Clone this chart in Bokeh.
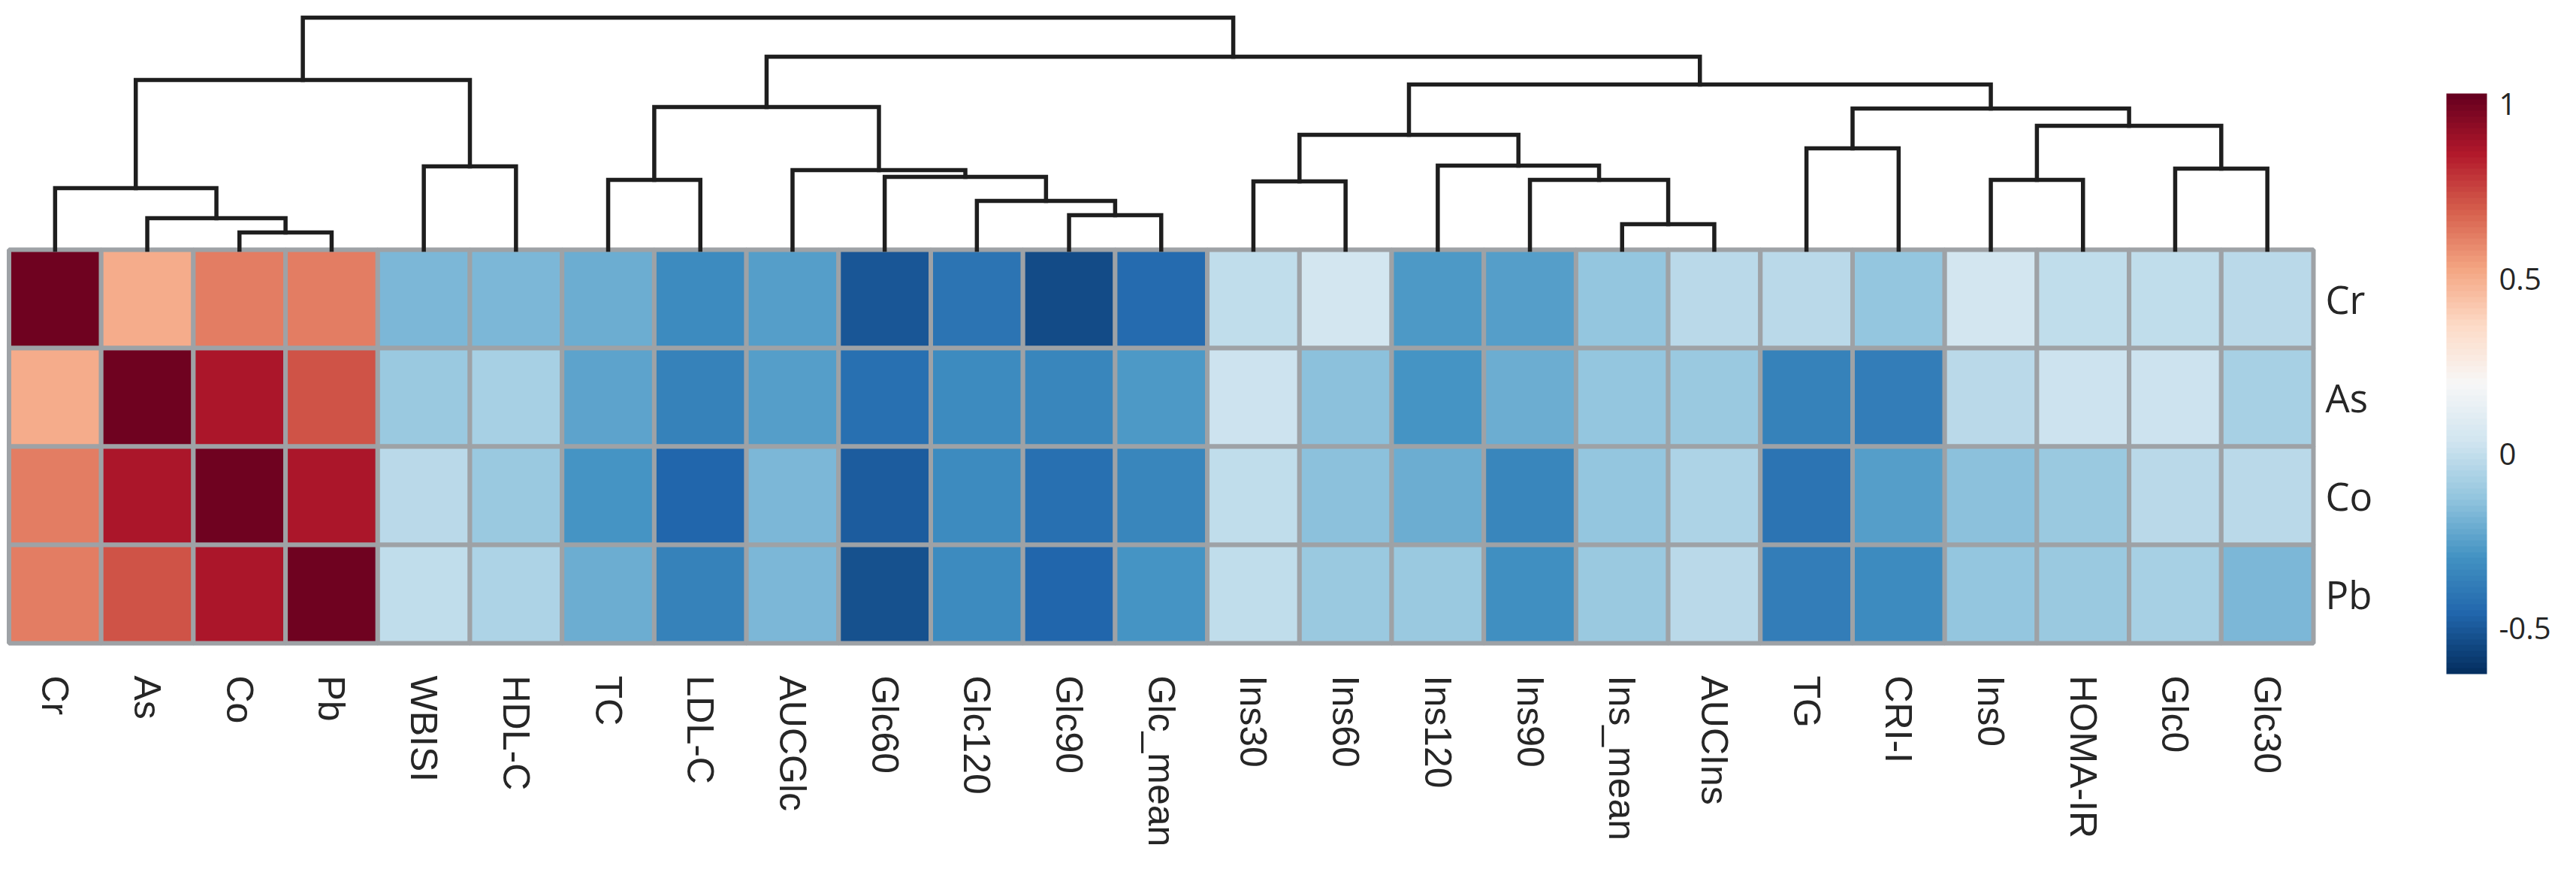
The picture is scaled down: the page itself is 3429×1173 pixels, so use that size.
import numpy as np
from bokeh.plotting import figure
from bokeh.models import (ColumnDataSource, LinearColorMapper, ColorBar,
                          FixedTicker, Range1d)
from bokeh.embed import file_html
from bokeh.resources import INLINE
from bokeh.core.properties import value

# ---------------- data ----------------
columns = ["Cr", "As", "Co", "Pb", "WBISI", "HDL-C", "TC", "LDL-C", "AUCGlc",
           "Glc60", "Glc120", "Glc90", "Glc_mean", "Ins30", "Ins60", "Ins120",
           "Ins90", "Ins_mean", "AUCIns", "TG", "CRI-I", "Ins0", "HOMA-IR",
           "Glc0", "Glc30"]
rows = ["Cr", "As", "Co", "Pb"]

r_cr = [1.00, 0.51, 0.62, 0.63, -0.17, -0.17, -0.21, -0.33, -0.25, -0.51,
        -0.41, -0.54, -0.44, -0.01, 0.05, -0.28, -0.25, -0.12, -0.02, -0.03,
        -0.12, 0.04, 0.00, 0.00, -0.02]
r_as = [0.51, 1.00, 0.87, 0.73, -0.11, -0.07, -0.24, -0.36, -0.25, -0.42,
        -0.33, -0.34, -0.28, 0.03, -0.14, -0.29, -0.21, -0.12, -0.11, -0.36,
        -0.38, -0.03, 0.02, 0.02, -0.08]
r_co = [0.62, 0.87, 1.00, 0.87, -0.03, -0.10, -0.29, -0.45, -0.17, -0.49,
        -0.33, -0.42, -0.34, -0.01, -0.14, -0.21, -0.34, -0.13, -0.06, -0.41,
        -0.25, -0.14, -0.10, -0.03, -0.02]
r_pb = [0.63, 0.73, 0.87, 1.00, -0.01, -0.05, -0.21, -0.36, -0.18, -0.53,
        -0.33, -0.45, -0.29, -0.01, -0.10, -0.11, -0.31, -0.10, -0.02, -0.38,
        -0.33, -0.13, -0.11, -0.08, -0.17]

# column dendrogram (linkage: left child, right child, height); leaves 0..24, new nodes 25..
merge_left = [2, 1, 0, 4, 27, 6, 11, 10, 9, 8, 30, 13, 17, 16, 15, 36, 19, 21, 23, 42, 41, 40, 35, 29]
merge_right = [3, 25, 26, 5, 28, 7, 12, 31, 32, 33, 34, 14, 18, 37, 38, 39, 20, 22, 24, 43, 44, 45, 46, 47]
merge_height = [0.23, 0.42, 0.82, 1.11, 2.26, 0.93, 0.46, 0.65, 0.97, 1.06, 1.90,
                0.91, 0.34, 0.93, 1.12, 1.53, 1.35, 0.93, 1.08, 1.65, 1.88,
                2.20, 2.57, 3.09]

cbar_ticks = [-0.5, 0, 0.5, 1]
cbar_labels = ["-0.5", "0", "0.5", "1"]
color_low, color_high = -0.63, 1.03

# ---------------- palette (RdBu, blue -> red) ----------------
rdbu = ["#053061", "#2166ac", "#4393c3", "#92c5de", "#d1e5f0", "#f7f7f7",
        "#fddbc7", "#f4a582", "#d6604d", "#b2182b", "#67001f"]


def interp(pal, n):
    rgb = np.array([[int(c[i:i + 2], 16) for i in (1, 3, 5)] for c in pal], float)
    t = np.linspace(0, len(pal) - 1, n)
    out = []
    for v in t:
        i = min(int(v), len(pal) - 2)
        f = v - i
        c = rgb[i] * (1 - f) + rgb[i + 1] * f
        out.append("#%02x%02x%02x" % tuple(int(round(x)) for x in c))
    return out


palette = interp(rdbu, 100)
mapper = LinearColorMapper(palette=palette, low=color_low, high=color_high)

# ---------------- layout ----------------
W, H = 3413, 1157
hm_left, hm_right = 11.5, 3079.0   # px of heatmap in canvas
hm_top, hm_bottom = 332.0, 856.0
ncol, nrow = len(columns), len(rows)
cw = (hm_right - hm_left) / ncol
rh = (hm_bottom - hm_top) / nrow

x0 = -hm_left / cw
x1 = (W - hm_left) / cw
y1 = nrow + hm_top / rh
y0 = -(H - hm_bottom) / rh

p = figure(width=W, height=H, output_backend="svg", toolbar_location=None,
           x_range=Range1d(x0, x1), y_range=Range1d(y0, y1),
           min_border=0, min_border_left=0, min_border_right=0,
           min_border_top=0, min_border_bottom=0)
p.xaxis.visible = False
p.yaxis.visible = False
p.grid.visible = False
p.outline_line_color = None
p.background_fill_color = "white"
p.border_fill_color = "white"

# dendrogram range: height 0 at heatmap top, 100 px per unit
dpx = 100.0
base_from_bottom = H - hm_top
p.extra_y_ranges = {"dendro": Range1d(-base_from_bottom / dpx, (H - base_from_bottom) / dpx)}

# ---------------- heatmap ----------------
mat = [r_cr, r_as, r_co, r_pb]
xs, ys, vals = [], [], []
for ri, row in enumerate(mat):
    for ci, v in enumerate(row):
        xs.append(ci + 0.5)
        ys.append(nrow - ri - 0.5)
        vals.append(v)
src = ColumnDataSource(dict(x=xs, y=ys, v=vals))
p.rect(x="x", y="y", width=1, height=1, source=src,
       fill_color={"field": "v", "transform": mapper},
       line_color="#9ea2a6", line_width=6)

# ---------------- dendrogram ----------------
node_x = [i + 0.5 for i in range(ncol)]
node_h = [0.0] * ncol
dxs, dys = [], []
for a, b, h in zip(merge_left, merge_right, merge_height):
    xa, xb = node_x[a], node_x[b]
    dxs.append([xa, xa, xb, xb])
    dys.append([node_h[a], h, h, node_h[b]])
    node_x.append((xa + xb) / 2)
    node_h.append(h)
p.multi_line(xs=dxs, ys=dys, y_range_name="dendro", line_color="#1e1e1e",
             line_width=5.5, line_join="miter", line_cap="square")

# ---------------- labels ----------------
col_src = ColumnDataSource(dict(x=[i + 0.5 for i in range(ncol)],
                                y=[0.0] * ncol, t=columns))
p.text(x="x", y="y", text="t", source=col_src, angle=-np.pi / 2,
       text_align="left", text_baseline="middle", y_offset=43,
       text_font=value("Liberation Sans"), text_font_size="50px",
       text_color="#262626")

row_src = ColumnDataSource(dict(x=[ncol] * nrow,
                                y=[nrow - i - 0.5 for i in range(nrow)], t=rows))
p.text(x="x", y="y", text="t", source=row_src, x_offset=16,
       text_align="left", text_baseline="middle",
       text_font=value("Open Sans"), text_font_size="51px",
       text_color="#262626")

# ---------------- colour bar ----------------
cb = ColorBar(color_mapper=mapper, width=54, height=773,
              location=(3256, H - 897), padding=0, margin=0,
              ticker=FixedTicker(ticks=cbar_ticks),
              major_label_overrides={t: l for t, l in zip(cbar_ticks, cbar_labels)},
              major_label_text_font="Open Sans",
              major_label_text_font_size="40px",
              major_label_text_color="#262626",
              label_standoff=16, major_tick_line_color=None,
              bar_line_color=None, border_line_color=None,
              background_fill_alpha=0)
p.add_layout(cb, "center")

open("out.html", "w").write(file_html(p, INLINE))
